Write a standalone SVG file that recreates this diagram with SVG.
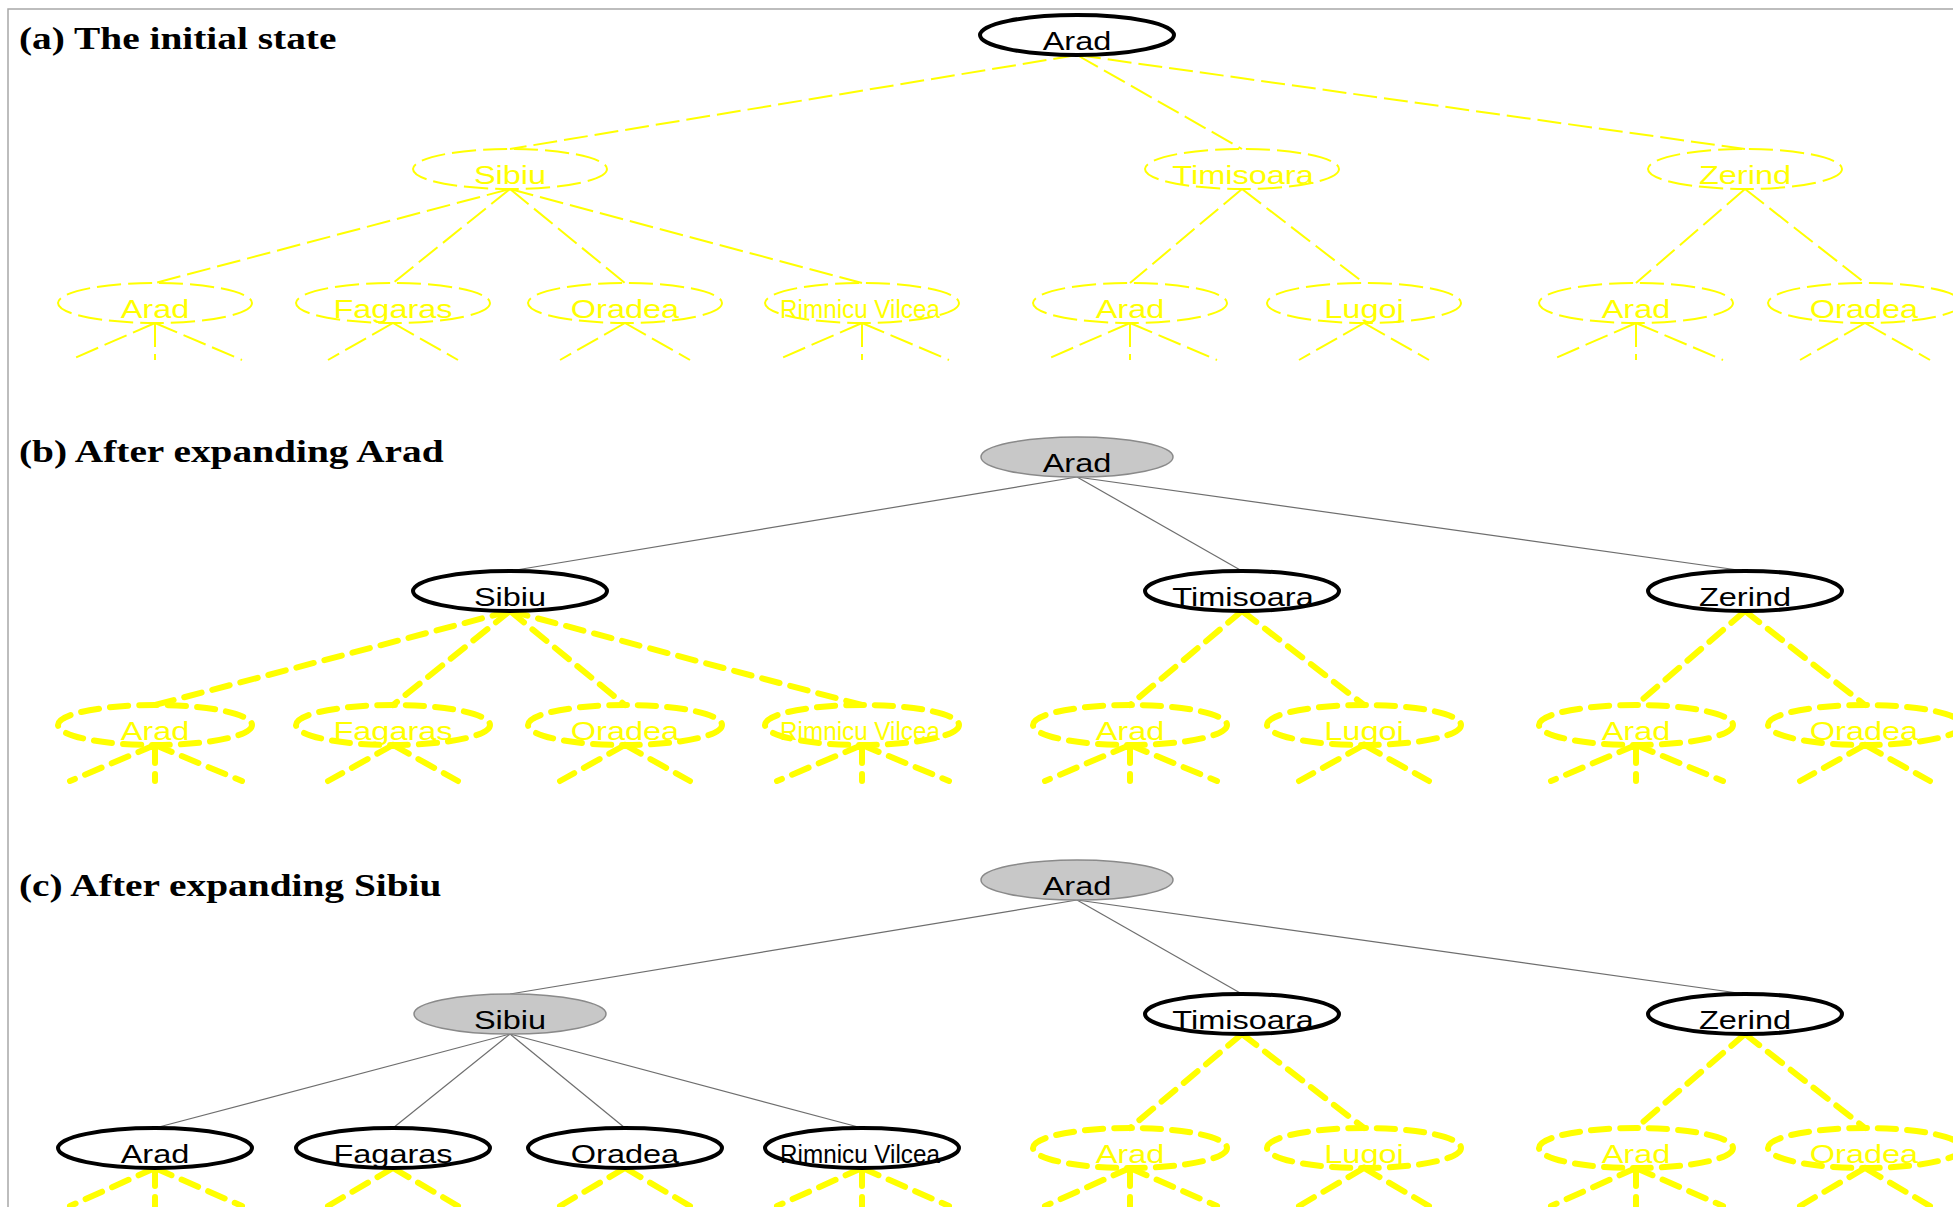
<svg xmlns="http://www.w3.org/2000/svg" width="1953" height="1207" viewBox="0 0 1953 1207">
  <style>
    .frame { fill: none; stroke: #a8a8a8; stroke-width: 1.5; }
    .title { font-family: "Liberation Serif", "Times New Roman", serif; font-weight: bold; font-size: 31px; fill: #000; }
    .lbl { font-family: "Liberation Sans", Arial, sans-serif; font-size: 25px; text-anchor: middle; }
    /* node states */
    .ghost ellipse { fill: none; stroke: #ffff00; stroke-width: 2; stroke-dasharray: 24 7; }
    .ghost text { fill: #ffff00; }
    .hidden ellipse { fill: none; stroke: #ffff00; stroke-width: 6; stroke-dasharray: 18 11; stroke-linecap: round; }
    .hidden text { fill: #ffff00; }
    .frontier ellipse { fill: #fff; stroke: #000; stroke-width: 4; }
    .frontier text { fill: #000; }
    .expanded ellipse { fill: #c8c8c8; stroke: #8a8a8a; stroke-width: 1.5; }
    .expanded text { fill: #000; }
    /* connectors */
    .e-ghost { stroke: #ffff00; stroke-width: 2; stroke-dasharray: 24 7; fill: none; }
    .e-hidden { stroke: #ffff00; stroke-width: 6; stroke-dasharray: 18 11; stroke-linecap: round; fill: none; }
    .e-tree { stroke: #6e6e6e; stroke-width: 1.2; fill: none; }
  </style>

  <!-- page frame (top and left rules) -->
  <path class="frame" d="M8 1207 V9 H1953"/>

  <!-- panel titles -->
  <text class="title" transform="translate(19,49) scale(1.27,1)">(a) The initial state</text>
  <text class="title" transform="translate(19,462) scale(1.27,1)">(b) After expanding Arad</text>
  <text class="title" transform="translate(19,896) scale(1.27,1)">(c) After expanding Sibiu</text>

  <!-- ================= connectors ================= -->
  <g id="connectors">
    <!-- (a) -->
    <g class="e-ghost">
      <line x1="1077" y1="55" x2="510" y2="149"/>
      <line x1="1077" y1="55" x2="1242" y2="149"/>
      <line x1="1077" y1="55" x2="1745" y2="149"/>
      <line x1="510" y1="189" x2="155" y2="283"/>
      <line x1="510" y1="189" x2="393" y2="283"/>
      <line x1="510" y1="189" x2="625" y2="283"/>
      <line x1="510" y1="189" x2="862" y2="283"/>
      <line x1="1242" y1="189" x2="1130" y2="283"/>
      <line x1="1242" y1="189" x2="1364" y2="283"/>
      <line x1="1745" y1="189" x2="1636" y2="283"/>
      <line x1="1745" y1="189" x2="1865" y2="283"/>
      <!-- stubs -->
      <path d="M155 323 L70 360 M155 323 V360 M155 323 L242 360"/>
      <path d="M393 323 L328 360 M393 323 L458 360"/>
      <path d="M625 323 L560 360 M625 323 L690 360"/>
      <path d="M862 323 L777 360 M862 323 V360 M862 323 L949 360"/>
      <path d="M1130 323 L1045 360 M1130 323 V360 M1130 323 L1217 360"/>
      <path d="M1364 323 L1299 360 M1364 323 L1429 360"/>
      <path d="M1636 323 L1551 360 M1636 323 V360 M1636 323 L1723 360"/>
      <path d="M1865 323 L1800 360 M1865 323 L1930 360"/>
    </g>

    <!-- (b) -->
    <g class="e-tree">
      <line x1="1077" y1="477" x2="510" y2="571"/>
      <line x1="1077" y1="477" x2="1242" y2="571"/>
      <line x1="1077" y1="477" x2="1745" y2="571"/>
    </g>
    <g class="e-hidden">
      <line x1="510" y1="611" x2="155" y2="705"/>
      <line x1="510" y1="611" x2="393" y2="705"/>
      <line x1="510" y1="611" x2="625" y2="705"/>
      <line x1="510" y1="611" x2="862" y2="705"/>
      <line x1="1242" y1="611" x2="1130" y2="705"/>
      <line x1="1242" y1="611" x2="1364" y2="705"/>
      <line x1="1745" y1="611" x2="1636" y2="705"/>
      <line x1="1745" y1="611" x2="1865" y2="705"/>
      <path d="M155 745 L70 781 M155 745 V781 M155 745 L242 781"/>
      <path d="M393 745 L328 781 M393 745 L458 781"/>
      <path d="M625 745 L560 781 M625 745 L690 781"/>
      <path d="M862 745 L777 781 M862 745 V781 M862 745 L949 781"/>
      <path d="M1130 745 L1045 781 M1130 745 V781 M1130 745 L1217 781"/>
      <path d="M1364 745 L1299 781 M1364 745 L1429 781"/>
      <path d="M1636 745 L1551 781 M1636 745 V781 M1636 745 L1723 781"/>
      <path d="M1865 745 L1800 781 M1865 745 L1930 781"/>
    </g>

    <!-- (c) -->
    <g class="e-tree">
      <line x1="1077" y1="900" x2="510" y2="994"/>
      <line x1="1077" y1="900" x2="1242" y2="994"/>
      <line x1="1077" y1="900" x2="1745" y2="994"/>
      <line x1="510" y1="1034" x2="155" y2="1128"/>
      <line x1="510" y1="1034" x2="393" y2="1128"/>
      <line x1="510" y1="1034" x2="625" y2="1128"/>
      <line x1="510" y1="1034" x2="862" y2="1128"/>
    </g>
    <g class="e-hidden">
      <line x1="1242" y1="1034" x2="1130" y2="1128"/>
      <line x1="1242" y1="1034" x2="1364" y2="1128"/>
      <line x1="1745" y1="1034" x2="1636" y2="1128"/>
      <line x1="1745" y1="1034" x2="1865" y2="1128"/>
      <path d="M155 1168 L70 1206 M155 1168 V1206 M155 1168 L242 1206"/>
      <path d="M393 1168 L328 1206 M393 1168 L458 1206"/>
      <path d="M625 1168 L560 1206 M625 1168 L690 1206"/>
      <path d="M862 1168 L777 1206 M862 1168 V1206 M862 1168 L949 1206"/>
      <path d="M1130 1168 L1045 1206 M1130 1168 V1206 M1130 1168 L1217 1206"/>
      <path d="M1364 1168 L1299 1206 M1364 1168 L1429 1206"/>
      <path d="M1636 1168 L1551 1206 M1636 1168 V1206 M1636 1168 L1723 1206"/>
      <path d="M1865 1168 L1800 1206 M1865 1168 L1930 1206"/>
    </g>
  </g>

  <!-- ================= nodes: (a) initial state ================= -->
  <g id="a-arad" class="frontier"><ellipse cx="1077" cy="35" rx="97" ry="20"/><text class="lbl" transform="translate(1077,50) scale(1.3,1)">Arad</text></g>
  <g id="a-sibiu" class="ghost"><ellipse cx="510" cy="169" rx="97" ry="20"/><text class="lbl" transform="translate(510,184) scale(1.3,1)">Sibiu</text></g>
  <g id="a-timisoara" class="ghost"><ellipse cx="1242" cy="169" rx="97" ry="20"/><text class="lbl" transform="translate(1243,184) scale(1.3,1)">Timisoara</text></g>
  <g id="a-zerind" class="ghost"><ellipse cx="1745" cy="169" rx="97" ry="20"/><text class="lbl" transform="translate(1745,184) scale(1.3,1)">Zerind</text></g>
  <g id="a-sibiu-arad" class="ghost"><ellipse cx="155" cy="303" rx="97" ry="20"/><text class="lbl" transform="translate(155,318) scale(1.3,1)">Arad</text></g>
  <g id="a-fagaras" class="ghost"><ellipse cx="393" cy="303" rx="97" ry="20"/><text class="lbl" transform="translate(393,318) scale(1.3,1)">Fagaras</text></g>
  <g id="a-sibiu-oradea" class="ghost"><ellipse cx="625" cy="303" rx="97" ry="20"/><text class="lbl" transform="translate(625,318) scale(1.3,1)">Oradea</text></g>
  <g id="a-rimnicu" class="ghost"><ellipse cx="862" cy="303" rx="97" ry="20"/><text class="lbl" transform="translate(860,318) scale(0.97,1)">Rimnicu Vilcea</text></g>
  <g id="a-tim-arad" class="ghost"><ellipse cx="1130" cy="303" rx="97" ry="20"/><text class="lbl" transform="translate(1130,318) scale(1.3,1)">Arad</text></g>
  <g id="a-lugoj" class="ghost"><ellipse cx="1364" cy="303" rx="97" ry="20"/><text class="lbl" transform="translate(1364,318) scale(1.3,1)">Lugoj</text></g>
  <g id="a-zer-arad" class="ghost"><ellipse cx="1636" cy="303" rx="97" ry="20"/><text class="lbl" transform="translate(1636,318) scale(1.3,1)">Arad</text></g>
  <g id="a-zer-oradea" class="ghost"><ellipse cx="1865" cy="303" rx="97" ry="20"/><text class="lbl" transform="translate(1864,318) scale(1.3,1)">Oradea</text></g>

  <!-- ================= nodes: (b) after expanding Arad ================= -->
  <g id="b-arad" class="expanded"><ellipse cx="1077" cy="457" rx="96" ry="20"/><text class="lbl" transform="translate(1077,472) scale(1.3,1)">Arad</text></g>
  <g id="b-sibiu" class="frontier"><ellipse cx="510" cy="591" rx="97" ry="20"/><text class="lbl" transform="translate(510,606) scale(1.3,1)">Sibiu</text></g>
  <g id="b-timisoara" class="frontier"><ellipse cx="1242" cy="591" rx="97" ry="20"/><text class="lbl" transform="translate(1243,606) scale(1.3,1)">Timisoara</text></g>
  <g id="b-zerind" class="frontier"><ellipse cx="1745" cy="591" rx="97" ry="20"/><text class="lbl" transform="translate(1745,606) scale(1.3,1)">Zerind</text></g>
  <g id="b-sibiu-arad" class="hidden"><ellipse cx="155" cy="725" rx="97" ry="20"/><text class="lbl" transform="translate(155,740) scale(1.3,1)">Arad</text></g>
  <g id="b-fagaras" class="hidden"><ellipse cx="393" cy="725" rx="97" ry="20"/><text class="lbl" transform="translate(393,740) scale(1.3,1)">Fagaras</text></g>
  <g id="b-sibiu-oradea" class="hidden"><ellipse cx="625" cy="725" rx="97" ry="20"/><text class="lbl" transform="translate(625,740) scale(1.3,1)">Oradea</text></g>
  <g id="b-rimnicu" class="hidden"><ellipse cx="862" cy="725" rx="97" ry="20"/><text class="lbl" transform="translate(860,740) scale(0.97,1)">Rimnicu Vilcea</text></g>
  <g id="b-tim-arad" class="hidden"><ellipse cx="1130" cy="725" rx="97" ry="20"/><text class="lbl" transform="translate(1130,740) scale(1.3,1)">Arad</text></g>
  <g id="b-lugoj" class="hidden"><ellipse cx="1364" cy="725" rx="97" ry="20"/><text class="lbl" transform="translate(1364,740) scale(1.3,1)">Lugoj</text></g>
  <g id="b-zer-arad" class="hidden"><ellipse cx="1636" cy="725" rx="97" ry="20"/><text class="lbl" transform="translate(1636,740) scale(1.3,1)">Arad</text></g>
  <g id="b-zer-oradea" class="hidden"><ellipse cx="1865" cy="725" rx="97" ry="20"/><text class="lbl" transform="translate(1864,740) scale(1.3,1)">Oradea</text></g>

  <!-- ================= nodes: (c) after expanding Sibiu ================= -->
  <g id="c-arad" class="expanded"><ellipse cx="1077" cy="880" rx="96" ry="20"/><text class="lbl" transform="translate(1077,895) scale(1.3,1)">Arad</text></g>
  <g id="c-sibiu" class="expanded"><ellipse cx="510" cy="1014" rx="96" ry="20"/><text class="lbl" transform="translate(510,1029) scale(1.3,1)">Sibiu</text></g>
  <g id="c-timisoara" class="frontier"><ellipse cx="1242" cy="1014" rx="97" ry="20"/><text class="lbl" transform="translate(1243,1029) scale(1.3,1)">Timisoara</text></g>
  <g id="c-zerind" class="frontier"><ellipse cx="1745" cy="1014" rx="97" ry="20"/><text class="lbl" transform="translate(1745,1029) scale(1.3,1)">Zerind</text></g>
  <g id="c-sibiu-arad" class="frontier"><ellipse cx="155" cy="1148" rx="97" ry="20"/><text class="lbl" transform="translate(155,1163) scale(1.3,1)">Arad</text></g>
  <g id="c-fagaras" class="frontier"><ellipse cx="393" cy="1148" rx="97" ry="20"/><text class="lbl" transform="translate(393,1163) scale(1.3,1)">Fagaras</text></g>
  <g id="c-sibiu-oradea" class="frontier"><ellipse cx="625" cy="1148" rx="97" ry="20"/><text class="lbl" transform="translate(625,1163) scale(1.3,1)">Oradea</text></g>
  <g id="c-rimnicu" class="frontier"><ellipse cx="862" cy="1148" rx="97" ry="20"/><text class="lbl" transform="translate(860,1163) scale(0.97,1)">Rimnicu Vilcea</text></g>
  <g id="c-tim-arad" class="hidden"><ellipse cx="1130" cy="1148" rx="97" ry="20"/><text class="lbl" transform="translate(1130,1163) scale(1.3,1)">Arad</text></g>
  <g id="c-lugoj" class="hidden"><ellipse cx="1364" cy="1148" rx="97" ry="20"/><text class="lbl" transform="translate(1364,1163) scale(1.3,1)">Lugoj</text></g>
  <g id="c-zer-arad" class="hidden"><ellipse cx="1636" cy="1148" rx="97" ry="20"/><text class="lbl" transform="translate(1636,1163) scale(1.3,1)">Arad</text></g>
  <g id="c-zer-oradea" class="hidden"><ellipse cx="1865" cy="1148" rx="97" ry="20"/><text class="lbl" transform="translate(1864,1163) scale(1.3,1)">Oradea</text></g>
</svg>
